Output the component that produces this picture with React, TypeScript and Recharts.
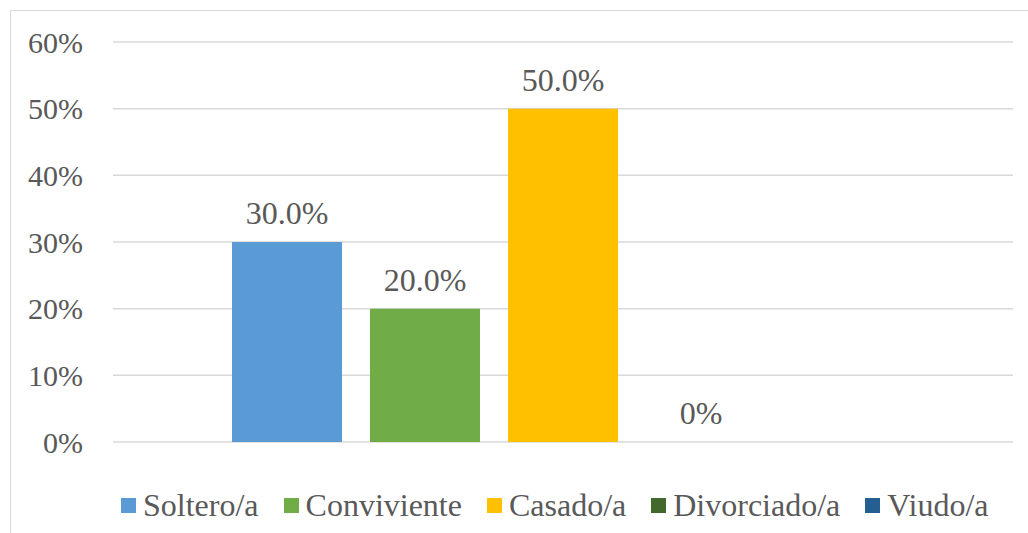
import { BarChart, Bar, XAxis, YAxis, CartesianGrid, LabelList } from 'recharts';

// categorías (una sola barra por serie)
const categories = [''];
const seriesNames = ['Soltero/a', 'Conviviente', 'Casado/a', 'Divorciado/a', 'Viudo/a'];
const seriesKeys = ['soltero', 'conviviente', 'casado', 'divorciado', 'viudo'];
const seriesValues: (number | null)[] = [0.3, 0.2, 0.5, 0, null];
const seriesColors = ['#5B9BD5', '#70AD47', '#FFC000', '#43682B', '#255E91'];
const yTicks = [0, 0.1, 0.2, 0.3, 0.4, 0.5, 0.6];

const data = categories.map((name) => {
    const row: Record<string, string | number | null> = { name };
    seriesKeys.forEach((k, i) => { row[k] = seriesValues[i]; });
    return row;
});

const FONT = '"Liberation Serif", "Times New Roman", serif';
const TEXT = '#595959';

function formatLabel(v: unknown): string {
    if (v === null || v === undefined) return '';
    const n = Number(v);
    if (n === 0) return '0%';
    return `${(n * 100).toFixed(1)}%`;
}

// etiqueta encima de la barra (también para valor 0)
function BarLabel(props: any) {
    const { x, y, width, value } = props;
    const text = formatLabel(value);
    if (!text) return null;
    return (
        <text x={Number(x) + Number(width) / 2} y={Number(y) - 18} textAnchor="middle"
            fill={TEXT} fontSize={32} fontFamily={FONT}>{text}</text>
    );
}

function ChartLegend() {
    return (
        <div style={{ position: 'absolute', left: 121, top: 489, display: 'flex', alignItems: 'center', fontFamily: FONT, fontSize: 32, color: TEXT, whiteSpace: 'nowrap' }}>
            {seriesNames.map((n, i) => (
                <div key={n} style={{ display: 'flex', alignItems: 'center', marginRight: 25 }}>
                    <span style={{ display: 'inline-block', width: 15, height: 15, background: seriesColors[i], marginRight: 7 }} />
                    <span style={{ lineHeight: 1 }}>{n}</span>
                </div>
            ))}
        </div>
    );
}

function App() {
    return (
        <div style={{ position: 'absolute', left: 0, top: 0, width: 1028, height: 533, overflow: 'hidden', background: '#fff' }}>
            <div style={{ position: 'absolute', left: 10, top: 10, width: 1100, height: 600, border: '1.5px solid #D9D9D9' }} />
            <div style={{ position: 'absolute', left: 0, top: 0 }}>
                <BarChart width={1028} height={533} data={data} margin={{ top: 42, right: 15, bottom: 91, left: 0 }}
                    barSize={110} barGap={28}>
                    <CartesianGrid vertical={false} stroke="#D9D9D9" strokeWidth={1.5} />
                    <XAxis dataKey="name" hide />
                    <YAxis domain={[0, 0.6]} ticks={yTicks} width={113} axisLine={false} tickLine={false}
                        tickSize={0} tickMargin={30} tickFormatter={(v: number) => `${Math.round(v * 100)}%`}
                        tick={{ fill: TEXT, fontSize: 30, fontFamily: FONT }} />
                    {seriesKeys.map((k, i) => (
                        // minPointSize: si no, la barra de valor 0 (y su etiqueta) no se dibuja
                        <Bar key={k} dataKey={k} name={seriesNames[i]} fill={seriesColors[i]} isAnimationActive={false}
                            minPointSize={0.01}>
                            <LabelList dataKey={k} content={<BarLabel />} />
                        </Bar>
                    ))}
                </BarChart>
            </div>
            <ChartLegend />
        </div>
    );
}

export default App;
